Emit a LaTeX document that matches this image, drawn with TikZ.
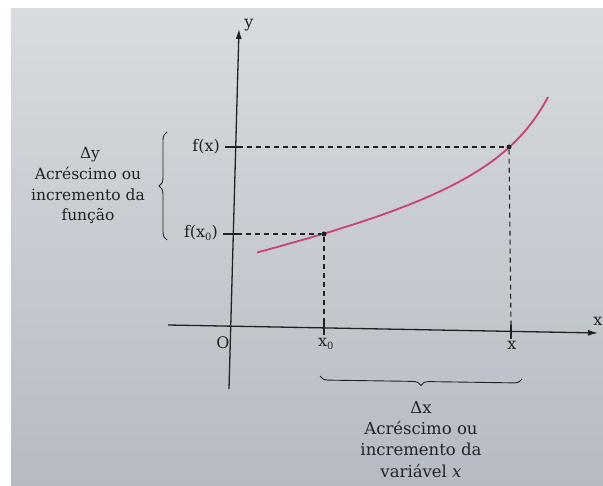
\documentclass[tikz,border=0pt]{standalone}
\usepackage{fontspec}
\setmainfont{DejaVu Serif}
\usetikzlibrary{arrows.meta,decorations.pathreplacing}
\definecolor{ink}{RGB}{34,34,38}
\definecolor{curvecol}{RGB}{204,64,122}
\definecolor{bgtop}{RGB}{216,220,225}
\definecolor{bgbot}{RGB}{182,186,194}
\newcommand{\subz}{\raisebox{-0.45ex}{\fontsize{10}{10}\selectfont 0}}
\begin{document}
\begin{tikzpicture}[x=1pt,y=-1pt,
  axis/.style={draw=ink,line width=1.3pt},
  tip/.style={-{Latex[length=10pt,width=6pt]}},
  tick/.style={draw=ink,line width=1.2pt},
  dashline/.style={draw=ink,line width=1.1pt,dash pattern=on 5pt off 4pt},
  fcurve/.style={draw=curvecol,line width=1.8pt},
  dot/.style={circle,fill=ink,inner sep=0pt,minimum size=5pt},
  bracestyle/.style={draw=ink,line width=0.9pt,decorate},
  lab/.style={text=ink,inner sep=0pt,font=\fontsize{16}{19}\selectfont},
  desc/.style={text=ink,inner sep=0pt,align=center},
]
\useasboundingbox (0,0) rectangle (603,486);
\fill[white] (0,0) rectangle (603,486);
\shade[top color=bgtop,bottom color=bgbot] (11,9) rectangle (603,486);

% axes
\coordinate (yb) at (229,389);
\coordinate (yt) at (239,29);
\coordinate (xl) at (168,325);
\coordinate (xr) at (598,333);
\draw[axis,tip] (yb) -- (yt);
\draw[axis,tip] (xl) -- (xr);

% curve
\draw[fcurve] plot[domain=257:548,samples=80,smooth]
  (\x,{252.5-0.2*(\x-257)-8730*(1/(620-\x)-1/363)});

% points
\node[dot] (P0) at (324,234) {};
\node[dot] (P1) at (509,147) {};

% ticks
\coordinate (ty1a) at (225,147); \coordinate (ty1b) at (238,147);
\coordinate (ty0a) at (223,234); \coordinate (ty0b) at (237,234);
\coordinate (tx0a) at (324,320); \coordinate (tx0b) at (324,335);
\coordinate (tx1a) at (511,325); \coordinate (tx1b) at (511,339);
\draw[tick] (ty1a) -- (ty1b);
\draw[tick] (ty0a) -- (ty0b);
\draw[tick] (tx0a) -- (tx0b);
\draw[tick] (tx1a) -- (tx1b);

% dashed guides
\draw[dashline] (ty1b) -- (P1);
\draw[dashline] (ty0b) -- (P0);
\draw[dashline] (P0) -- (tx0a);
\draw[dashline] (P1) -- (tx1a);

% axis labels
\node[lab] (ylab) at (249,25) {y};
\node[lab] (xlab) at (598,321) {x};
\node[lab] (olab) at (223,343) {O};
\node[lab,anchor=west] (x0lab) at (318,344) {x\subz};
\node[lab] (x1lab) at (512,345) {x};
\node[lab,anchor=east] (fxlab) at (220,147) {f(x)};
\node[lab,anchor=east] (fx0lab) at (218,233) {f(x\subz)};

% braces
\coordinate (bl1) at (167,240); \coordinate (bl2) at (167,132);
\draw[bracestyle,decoration={brace,amplitude=8pt}] (bl1) -- (bl2);
\coordinate (bb1) at (522,379); \coordinate (bb2) at (320,376);
\draw[bracestyle,decoration={brace,amplitude=8pt}] (bb1) -- (bb2);

% descriptions
\node[desc,font=\fontsize{15.5}{20.5}\selectfont] (dy) at (90,155) {Δy};
\node[desc,font=\fontsize{15.5}{20.5}\selectfont,anchor=north] (dytext) at (88,167)
  {Acréscimo ou\\incremento da\\função};
\node[desc,font=\fontsize{16.5}{21.5}\selectfont] (dx) at (421,407) {Δx};
\node[desc,font=\fontsize{16.5}{21.5}\selectfont,anchor=north] (dxtext) at (421,421)
  {Acréscimo ou\\incremento da\\variável \textit{x}};
\end{tikzpicture}
\end{document}
